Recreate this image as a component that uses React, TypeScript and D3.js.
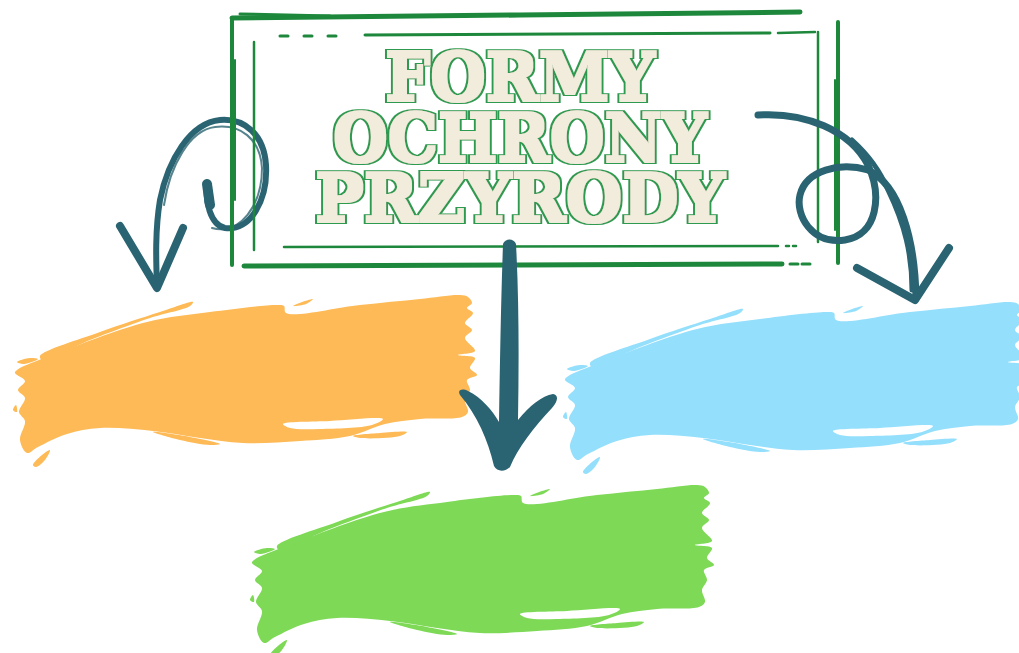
import React from 'react';
import * as d3 from 'd3';

// tytuł i trzy pola
const titleLines = ['FORMY', 'OCHRONY', 'PRZYRODY'];
const titleWidths = [270, 374, 410];
const boxes = ['left', 'right', 'bottom'];
const boxColors = ['#FDBA56', '#94DFFC', '#7ED957'];

// kształt pędzla w układzie pomarańczowego pola (odniesienie)
const REF = { x0: 12, x1: 477, y0: 293, y1: 468 };
const BODY: [number, number][] = [
  [17, 370], [60, 352], [147, 322], [210, 312], [277, 305], [284, 306], [286, 313], [360, 305],
  [420, 299], [460, 295], [468, 297], [472, 303], [467, 308], [473, 313], [465, 323], [472, 330],
  [465, 338], [475, 351], [458, 355], [475, 358], [470, 368], [477, 375], [467, 380], [470, 390],
  [465, 400], [468, 412], [462, 417], [420, 419], [385, 424], [350, 436], [300, 441], [243, 443],
  [200, 438], [153, 431], [100, 428], [67, 434], [38, 447], [27, 453], [20, 440], [25, 421],
  [19, 412], [25, 398], [18, 390], [25, 381], [15, 373],
];
const STREAKS: [number, number][][] = [
  [[40, 356], [100, 332], [160, 312], [193, 302], [190, 306], [150, 318], [90, 340], [42, 360]],
  [[17, 362], [30, 358], [38, 359], [24, 364]],
  [[293, 306], [305, 301], [313, 299], [306, 304]],
  [[153, 432], [190, 437], [220, 444], [210, 445], [180, 440]],
  [[353, 436], [380, 433], [407, 432], [400, 436], [360, 438]],
  [[33, 465], [42, 455], [50, 450], [45, 460], [36, 467]],
  [[13, 410], [16, 405], [17, 412]],
];
const GAP: [number, number][] = [[283, 424], [330, 421], [383, 419], [372, 425], [320, 429], [290, 428]];

const boxFrames: Record<string, { x0: number; x1: number; y0: number; y1: number }> = {
  left: REF,
  right: { x0: 562, x1: 1027, y0: 300, y1: 475 },
  bottom: { x0: 249, x1: 714, y0: 483, y1: 658 },
};

const TEAL = '#2A6472';
const FRAME = '#1D873C';
const CREAM = '#F1ECDC';
const TITLE_LINE = '#2F9A50';

const Brush = ({ frame, color }: { frame: typeof REF; color: string }) => {
  const x = d3.scaleLinear().domain([REF.x0, REF.x1]).range([frame.x0, frame.x1]);
  const y = d3.scaleLinear().domain([REF.y0, REF.y1]).range([frame.y0, frame.y1]);
  const line = d3
    .line<[number, number]>()
    .x((d) => x(d[0]))
    .y((d) => y(d[1]))
    .curve(d3.curveCatmullRomClosed.alpha(0.5));
  return (
    <g>
      <path d={line(BODY) || ''} fill={color} />
      {STREAKS.map((s, i) => (
        <path key={i} d={line(s) || ''} fill={color} />
      ))}
      <path d={line(GAP) || ''} fill="#fff" />
    </g>
  );
};

const Frame = () => (
  <g stroke={FRAME} strokeLinecap="round" fill="none">
    {/* zewnętrzna ramka */}
    <path d="M232,18 L520,15 L800,12" strokeWidth={5} />
    <path d="M240,14 L330,16" strokeWidth={3} />
    <path d="M232,20 L232,265" strokeWidth={4} />
    <path d="M235,60 L235,200" strokeWidth={2} />
    <path d="M838,22 L838,263" strokeWidth={4} />
    <path d="M835,80 L835,230" strokeWidth={2} />
    <path d="M244,266 L520,265 L782,264" strokeWidth={5} />
    <path d="M790,264 L812,264" strokeWidth={3} strokeDasharray="8 4" />
    {/* wewnętrzna ramka */}
    <path d="M280,36 L348,36" strokeWidth={3} strokeDasharray="8 16" />
    <path d="M365,35 L770,33" strokeWidth={3} />
    <path d="M778,33 L815,32" strokeWidth={2.5} />
    <path d="M254,42 L254,250" strokeWidth={2.5} />
    <path d="M818,32 L818,242" strokeWidth={2.5} />
    <path d="M284,247 L778,246" strokeWidth={2.5} />
    <path d="M786,246 L800,246" strokeWidth={2.5} strokeDasharray="3 4" />
  </g>
);

const App = () => {
  const baselines = [100, 161, 221];
  return (
    <svg
      width={1019}
      height={653}
      style={{ position: 'absolute', left: 0, top: 0, background: '#fff' }}
    >
      <defs>
        {/* pogrubienie liter i zielony kontur */}
        <filter id="slab" x="-10%" y="-30%" width="120%" height="160%">
          <feMorphology in="SourceAlpha" operator="dilate" radius="2.6" result="outer" />
          <feFlood floodColor={TITLE_LINE} result="green" />
          <feComposite in="green" in2="outer" operator="in" result="greenO" />
          <feMorphology in="SourceAlpha" operator="dilate" radius="1.4" result="inner" />
          <feFlood floodColor={CREAM} result="cream" />
          <feComposite in="cream" in2="inner" operator="in" result="creamI" />
          <feMerge>
            <feMergeNode in="greenO" />
            <feMergeNode in="creamI" />
          </feMerge>
        </filter>
      </defs>

      {boxes.map((b, i) => (
        <Brush key={b} frame={boxFrames[b]} color={boxColors[i]} />
      ))}

      {/* lewa strzałka z pętlą */}
      <g stroke={TEAL} fill="none" strokeLinecap="round" strokeLinejoin="round">
        <path
          d="M207,185 C205,200 210,225 225,228 C250,232 268,200 266,165 C264,135 245,118 220,120 C190,123 168,160 160,200 C155,230 156,260 157,287"
          strokeWidth={6}
        />
        <path
          d="M212,228 C240,236 262,205 262,168 C260,138 240,124 215,127 C190,130 170,165 164,205"
          strokeWidth={2}
          opacity={0.8}
        />
        <path d="M120,226 L157,288 L183,228" strokeWidth={8} />
        <path d="M207,184 L210,205" strokeWidth={10} />
      </g>

      <Frame />

      {titleLines.map((t, i) => (
        <g key={t} transform={`translate(520,${baselines[i]}) scale(1,1.3)`}>
          <text
            textAnchor="middle"
            textLength={titleWidths[i]}
            lengthAdjust="spacingAndGlyphs"
            fontFamily="'DejaVu Serif', serif"
            fontWeight="bold"
            fontSize={51}
            fill={CREAM}
            filter="url(#slab)"
          >
            {t}
          </text>
        </g>
      ))}

      {/* prawa strzałka z pętlą */}
      <g stroke={TEAL} fill="none" strokeLinecap="round" strokeLinejoin="round">
        <path
          d="M758,115 C805,112 850,130 868,165 C882,195 878,235 845,240 C812,245 795,215 800,195 C806,170 840,162 868,170 C900,185 915,240 916,298"
          strokeWidth={7}
        />
        <path d="M852,140 C872,158 882,175 888,190 C905,225 912,255 912,290" strokeWidth={5} />
        <path d="M857,268 L915,300 L949,248" strokeWidth={8} />
      </g>

      {/* środkowa strzałka */}
      <path
        fill={TEAL}
        d="M503,244 C505,238 514,238 516,244 C519,300 519,360 518,420 C530,405 542,396 553,394 C559,395 558,401 552,408 C533,428 518,448 510,467 C505,472 497,472 494,466 C488,440 477,415 460,395 C457,390 462,388 468,391 C482,398 492,410 499,422 C500,360 501,300 503,244 Z"
      />
    </svg>
  );
};

export default App;
